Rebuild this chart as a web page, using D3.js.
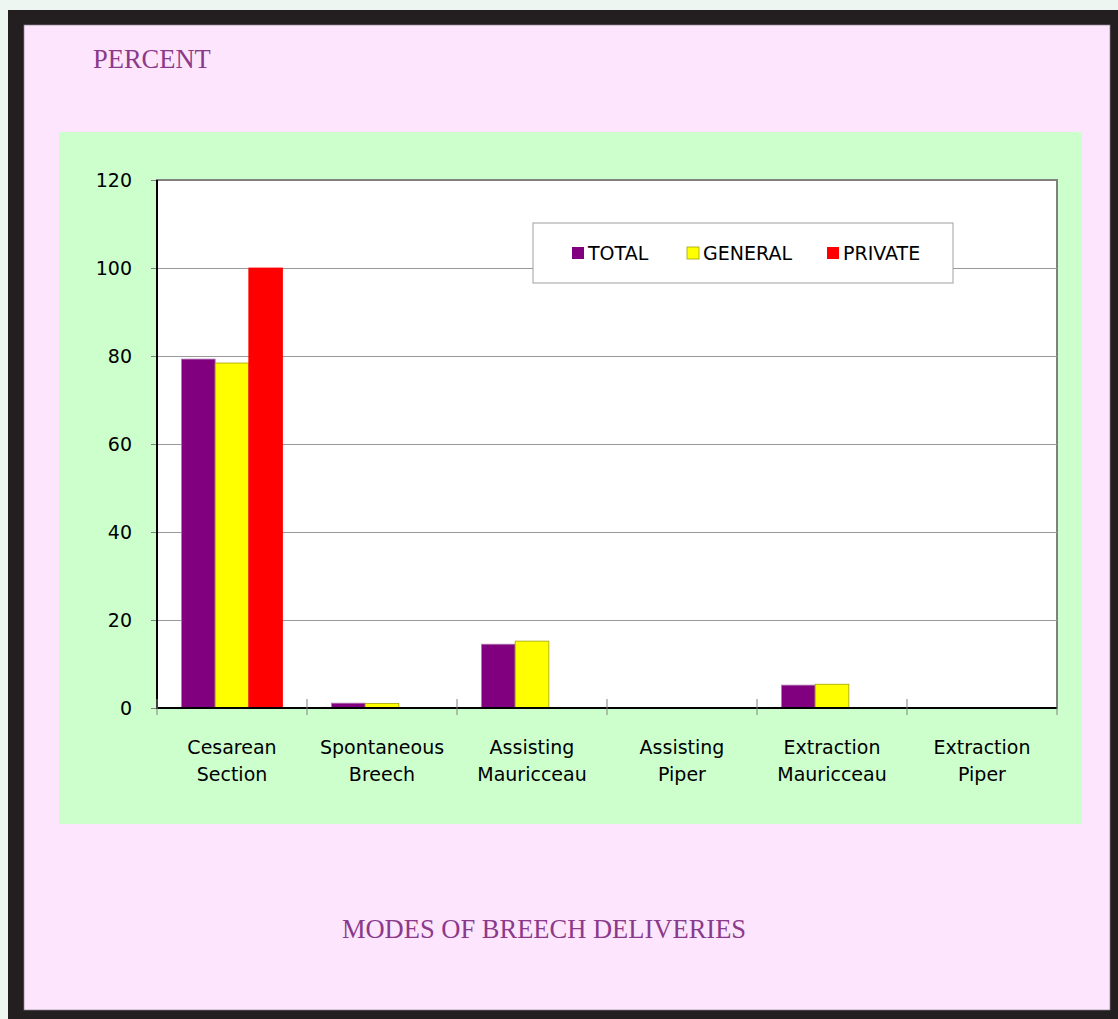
<!DOCTYPE html>
<html><head><meta charset="utf-8">
<script src="https://cdn.jsdelivr.net/npm/d3@7"></script>
<style>html,body{margin:0;padding:0;background:#edf6f1;}svg{display:block;}</style>
</head><body>
<script>
const categories = [["Cesarean","Section"],["Spontaneous","Breech"],["Assisting","Mauricceau"],["Assisting","Piper"],["Extraction","Mauricceau"],["Extraction","Piper"]];
const seriesNames = ["TOTAL","GENERAL","PRIVATE"];
const totalValues = [79.3, 1.1, 14.5, 0, 5.2, 0];
const generalValues = [78.4, 1.0, 15.2, 0, 5.4, 0];
const privateValues = [100, 0, 0, 0, 0, 0];
const yTicks = [0,20,40,60,80,100,120];
const colors = ["#800080","#ffff00","#ff0000"];
const strokes = ["#b07ab0","#a3a300","#ff0000"];

const W=1118,H=1019;
const svg=d3.select("body").append("svg").attr("width",W).attr("height",H);
svg.append("rect").attr("x",0).attr("y",0).attr("width",W).attr("height",H).attr("fill","#edf6f1");
svg.append("rect").attr("x",8).attr("y",10).attr("width",W-8).attr("height",H-10).attr("fill","#231f20");
svg.append("rect").attr("x",24).attr("y",25).attr("width",1086).attr("height",985).attr("fill","#fde6fd").attr("stroke","#8a8090").attr("stroke-width",0.7);
svg.append("rect").attr("x",59).attr("y",132).attr("width",1023).attr("height",692).attr("fill","#ccffcc");

const ff="'DejaVu Sans', Verdana, sans-serif";
svg.append("text").attr("x",93).attr("y",68).text("PERCENT").attr("font-family","'Liberation Serif', 'Times New Roman', serif").attr("font-size",26.5).attr("fill","#8b3a8b");
svg.append("text").attr("x",544).attr("y",938).attr("text-anchor","middle").text("MODES OF BREECH DELIVERIES").attr("font-family","'Liberation Serif', 'Times New Roman', serif").attr("font-size",26.5).attr("fill","#8b3a8b");

const L=157,R=1057,T=180,B=708;
const y=d3.scaleLinear().domain([0,120]).range([B,T]);
const x0=d3.scaleBand().domain(d3.range(categories.length)).range([L,R]).padding(0);
const groupW=101;
const x1=d3.scaleBand().domain(seriesNames).range([0,groupW]).padding(0);

const g=svg.append("g");
g.append("rect").attr("x",L).attr("y",T).attr("width",R-L).attr("height",B-T).attr("fill","#fff").attr("stroke","#808080").attr("stroke-width",2);
g.selectAll("line.grid").data(yTicks.filter(d=>d>0&&d<120)).enter().append("line")
 .attr("x1",L).attr("x2",R).attr("y1",d=>y(d)+0.5).attr("y2",d=>y(d)+0.5).attr("stroke","#999").attr("stroke-width",1);

const data=[totalValues,generalValues,privateValues];
seriesNames.forEach((s,si)=>{
  g.selectAll("rect.s"+si).data(data[si]).enter().append("rect")
   .attr("x",(d,i)=>x0(i)+(x0.bandwidth()-groupW)/2+x1(s))
   .attr("y",d=>y(d)).attr("width",x1.bandwidth()).attr("height",d=>B-y(d))
   .attr("fill",colors[si]).attr("stroke",d=>d>0?strokes[si]:"none").attr("stroke-width",0.8)
   .attr("display",d=>d>0?null:"none");
});

const yAxis=d3.axisLeft(y).tickValues(yTicks).tickSize(6).tickPadding(19);
const ya=svg.append("g").attr("transform",`translate(${L},0)`).call(yAxis);
ya.select(".domain").remove();
ya.selectAll(".tick line").attr("stroke","#808080");
ya.selectAll("text").attr("font-family",ff).attr("font-size",19).attr("fill","#000").attr("dy","0.35em");
svg.append("line").attr("x1",L).attr("x2",L).attr("y1",T).attr("y2",B+1).attr("stroke","#000").attr("stroke-width",2);

svg.append("line").attr("x1",L).attr("x2",R).attr("y1",B).attr("y2",B).attr("stroke","#000").attr("stroke-width",2);
const bounds=d3.range(categories.length+1).map(i=>L+i*x0.bandwidth());
svg.selectAll("line.xt").data(bounds).enter().append("line")
 .attr("x1",d=>d).attr("x2",d=>d).attr("y1",B-9).attr("y2",B+7).attr("stroke","#808080").attr("stroke-width",1);
const xl=svg.selectAll("text.xl").data(categories).enter().append("text")
 .attr("text-anchor","middle").attr("font-family",ff).attr("font-size",19).attr("fill","#000");
xl.append("tspan").attr("x",(d,i)=>x0(i)+x0.bandwidth()/2).attr("y",754).text(d=>d[0]);
xl.append("tspan").attr("x",(d,i)=>x0(i)+x0.bandwidth()/2).attr("y",781).text(d=>d[1]);

const lg=svg.append("g");
lg.append("rect").attr("x",533).attr("y",223).attr("width",420).attr("height",60).attr("fill","#fff").attr("stroke","#a0a0a0").attr("stroke-width",1);
const lx=[572,687,827];
seriesNames.forEach((s,i)=>{
  lg.append("rect").attr("x",lx[i]).attr("y",247).attr("width",12).attr("height",12).attr("fill",colors[i]).attr("stroke",i==1?"#a3a300":"none").attr("stroke-width",0.8);
  lg.append("text").attr("x",lx[i]+16).attr("y",260).text(s).attr("font-family",ff).attr("font-size",19).attr("fill","#000");
});
</script>
</body></html>
